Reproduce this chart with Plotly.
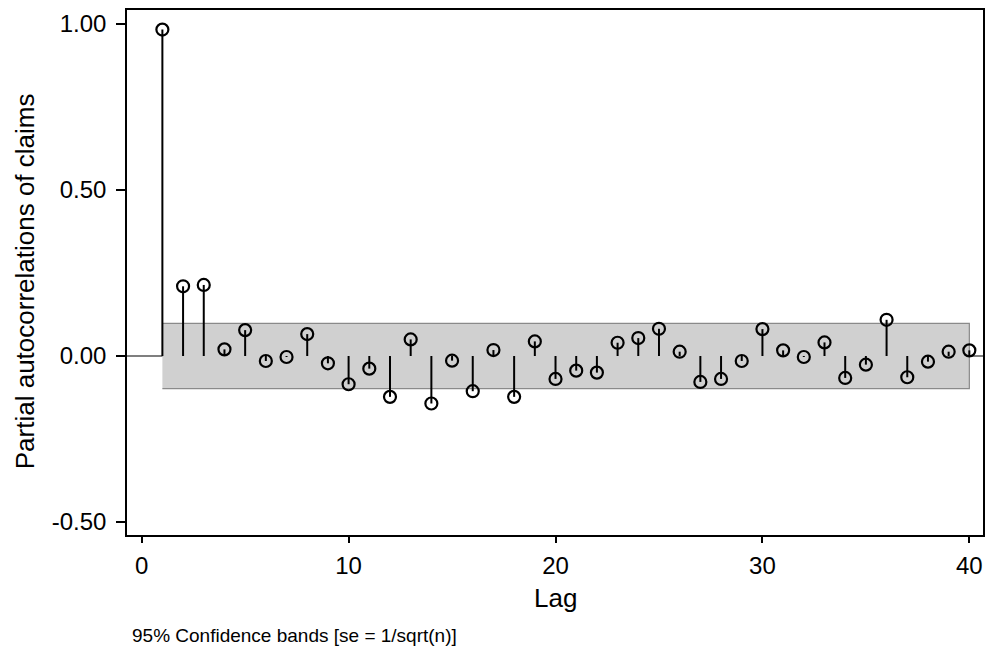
import plotly.graph_objects as go

lags = list(range(1, 41))
pac = [0.983, 0.210, 0.214, 0.020, 0.078, -0.015, -0.003, 0.066, -0.022, -0.085,
       -0.038, -0.123, 0.050, -0.143, -0.014, -0.106, 0.018, -0.123, 0.044, -0.069,
       -0.044, -0.050, 0.040, 0.054, 0.082, 0.013, -0.078, -0.069, -0.015, 0.081,
       0.017, -0.003, 0.041, -0.066, -0.026, 0.109, -0.064, -0.017, 0.013, 0.017]
band = 0.098
y_ticks = [-0.5, 0.0, 0.5, 1.0]
y_ticktext = ["-0.50", "0.00", "0.50", "1.00"]
x_ticks = [0, 10, 20, 30, 40]

FONT = "Liberation Sans, Arial, Helvetica, sans-serif"

fig = go.Figure()

# confidence band
fig.add_trace(go.Scatter(
    x=lags + lags[::-1],
    y=[band] * len(lags) + [-band] * len(lags),
    fill="toself", fillcolor="#d0d0d0",
    line=dict(color="#8a8a8a", width=1.2),
    mode="lines", hoverinfo="skip", showlegend=False))

# stems
sx, sy = [], []
for l, v in zip(lags, pac):
    sx += [l, l, None]
    sy += [0, v, None]
fig.add_trace(go.Scatter(x=sx, y=sy, mode="lines",
                         line=dict(color="black", width=2),
                         hoverinfo="skip", showlegend=False))

# markers
fig.add_trace(go.Scatter(x=lags, y=pac, mode="markers",
                         marker=dict(symbol="circle-open", size=12,
                                     color="black", line=dict(width=2.2)),
                         showlegend=False))

# zero line
fig.add_shape(type="line", xref="paper", yref="y", x0=0, x1=1, y0=0, y1=0,
              line=dict(color="black", width=1.2), layer="below")

fig.update_layout(
    width=988, height=652,
    margin=dict(l=127, r=3, t=10, b=117),
    paper_bgcolor="white", plot_bgcolor="white",
    font=dict(family=FONT, size=24, color="black"),
    xaxis=dict(range=[-0.71, 40.66], tickvals=x_ticks, ticks="outside",
               ticklen=6, tickwidth=1.5, tickcolor="black",
               showgrid=False, zeroline=False, showline=True,
               linecolor="black", linewidth=1.5, mirror=True,
               tickfont=dict(size=24), ticklabelstandoff=2),
    yaxis=dict(range=[-0.539, 1.042], tickvals=y_ticks, ticktext=y_ticktext,
               ticks="outside", ticklen=9, tickwidth=1.5, tickcolor="black",
               showgrid=False, zeroline=False, showline=True,
               linecolor="black", linewidth=1.5, mirror=True,
               tickfont=dict(size=24), ticklabelstandoff=5),
    annotations=[
        dict(text="Lag", xref="paper", yref="paper", x=0.501, y=-0.12,
             xanchor="center", yanchor="middle", showarrow=False,
             font=dict(size=26, color="black")),
        dict(text="Partial autocorrelations of claims", xref="paper", yref="paper",
             x=-0.1189, y=0.4838, textangle=-90,
             xanchor="center", yanchor="middle", showarrow=False,
             font=dict(size=26, color="black")),
        dict(text="95% Confidence bands [se = 1/sqrt(n)]",
             xref="paper", yref="paper", x=0.004, y=-0.192,
             xanchor="left", yanchor="middle", showarrow=False,
             font=dict(size=19, color="black")),
    ],
)

fig.write_html("out.html",
               config={"displayModeBar": False},
               post_script="document.body.style.margin='0';"
                           "document.body.style.overflow='hidden';")
